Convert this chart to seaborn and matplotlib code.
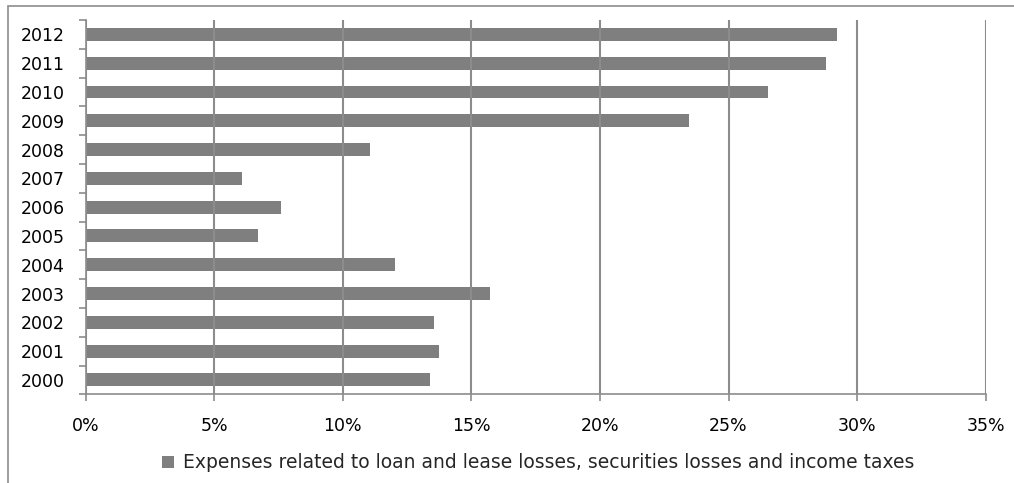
import matplotlib
matplotlib.use("Agg")
import matplotlib.pyplot as plt
import seaborn as sns
import pandas as pd
from matplotlib.ticker import FixedLocator, PercentFormatter
from matplotlib.patches import Rectangle

years = ["2012", "2011", "2010", "2009", "2008", "2007", "2006",
         "2005", "2004", "2003", "2002", "2001", "2000"]
values = [29.22, 28.79, 26.53, 23.46, 11.06, 6.07, 7.60,
          6.70, 12.03, 15.72, 13.55, 13.74, 13.39]
series_name = ("Expenses related to loan and lease losses, "
               "securities losses and income taxes")
x_ticks = [0, 5, 10, 15, 20, 25, 30, 35]

df = pd.DataFrame({"year": years, "value": values})

sns.set_theme(style="white")
plt.rcParams["font.family"] = ["DejaVu Sans"]

fig = plt.figure(figsize=(10.14, 4.83), dpi=100)
ax = fig.add_axes([0.0845, 0.1836, 0.9721 - 0.0845, 0.9586 - 0.1836])

sns.barplot(data=df, x="value", y="year", order=years, color="#7f7f7f",
            saturation=1, width=0.45, orient="h", label=series_name,
            linewidth=0, ax=ax)

ax.set_xlim(0, 35)
ax.set_ylim(len(years) - 0.5, -0.5)
ax.xaxis.set_major_locator(FixedLocator(x_ticks))
ax.xaxis.set_major_formatter(PercentFormatter(decimals=0))
ax.grid(axis="x", color="#8c8c8c", linewidth=1.5)
ax.set_axisbelow(False)
ax.set_xlabel("")
ax.set_ylabel("")

for side in ["top", "right"]:
    ax.spines[side].set_visible(False)
for side in ["left", "bottom"]:
    ax.spines[side].set_color("#8c8c8c")
    ax.spines[side].set_linewidth(1.2)

ax.tick_params(axis="x", which="major", length=5, width=1.2, color="#8c8c8c",
               direction="out", bottom=True, labelsize=12.5, pad=11,
               labelcolor="black")
ax.tick_params(axis="y", which="major", length=0, labelsize=12.5, pad=15,
               labelcolor="black")
ax.yaxis.set_minor_locator(FixedLocator([i + 0.5 for i in range(-1, len(years))]))
ax.tick_params(axis="y", which="minor", length=5, width=1.2, color="#8c8c8c",
               direction="out", left=True)

leg = ax.legend(loc="center", bbox_to_anchor=(0.531, 0.042),
                bbox_transform=fig.transFigure, frameon=False, fontsize=13.5,
                handlelength=0.6, handleheight=0.6, handletextpad=0.5)

fig.patches.append(Rectangle((8 / 1014, -0.5), 1.5, 0.5 + 1 - 6 / 483,
                             transform=fig.transFigure, fill=False,
                             edgecolor="#8c8c8c", linewidth=1.2))

fig.savefig("out.png", dpi=100)
